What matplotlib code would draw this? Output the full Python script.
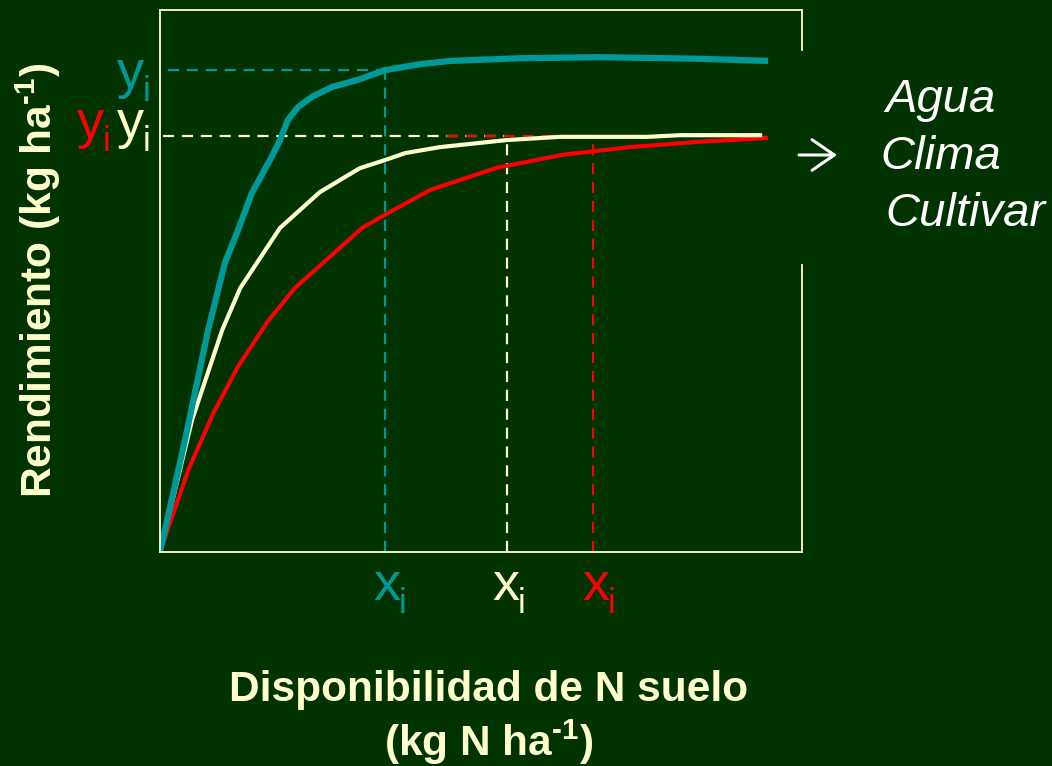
import matplotlib
matplotlib.use("Agg")
import matplotlib.pyplot as plt
import matplotlib.transforms as mtransforms

plt.rcParams['font.family'] = ['Liberation Sans', 'DejaVu Sans']
plt.rcParams['mathtext.fontset'] = 'custom'
plt.rcParams['mathtext.rm'] = 'Liberation Sans:bold'
plt.rcParams['mathtext.bf'] = 'Liberation Sans:bold'

# curve data (N availability vs yield, relative units 0-100)
teal_x = [0, 3.9, 7.5, 10.1, 12.0, 14.3, 17.4, 18.7, 19.9, 21.5, 23.7, 26.8,
          30.8, 35.0, 40.5, 45.2, 56.1, 68.5, 84.1, 94.7]
teal_y = [0, 20.7, 41.0, 53.3, 58.9, 66.2, 72.9, 76.0, 79.7, 82.1, 84.0, 85.8,
          87.1, 88.9, 90.0, 90.6, 91.1, 91.3, 91.0, 90.6]

cream_x = [0, 5.0, 9.7, 12.5, 18.7, 24.9, 31.1, 35.0, 38.2, 43.6, 54.0, 62.3,
           75.9, 81.0, 93.8]
cream_y = [0, 24.4, 41.0, 48.7, 59.8, 66.4, 70.8, 72.3, 73.6, 74.7, 76.0, 76.6,
           76.6, 76.9, 76.9]

red_x = [0, 4.4, 8.3, 12.1, 16.7, 21.0, 31.5, 35.0, 42.1, 52.5, 62.8, 73.2,
         84.1, 94.7]
red_y = [0, 15.1, 25.6, 34.1, 42.4, 48.7, 59.8, 62.2, 66.8, 70.9, 73.3, 74.7,
         75.7, 76.4]

# reference points (x_i, y_i) for each curve
teal_ref = (35.05, 88.9)
cream_ref = (54.05, 76.75)
red_ref = (67.45, 76.75)

factors = ['Agua', 'Clima', 'Cultivar']

BG = '#003300'
TEAL = '#009999'
CREAM = '#FFFFCC'
RED = '#FF0000'

fig = plt.figure(figsize=(10.52, 7.66), dpi=100, facecolor=BG)
ax = fig.add_axes([160 / 1052, 214 / 766, 642 / 1052, 542 / 766])
ax.set_facecolor(BG)
ax.set_xlim(0, 100)
ax.set_ylim(0, 100)
ax.set_xticks([])
ax.set_yticks([])
for side in ['left', 'bottom', 'top']:
    ax.spines[side].set_color(CREAM)
    ax.spines[side].set_linewidth(1.3)
ax.spines['right'].set_visible(False)
# right border is broken behind the text block
ax.plot([1, 1], [0, 0.53], transform=ax.transAxes, color=CREAM, lw=1.3, clip_on=False)
ax.plot([1, 1], [0.926, 1], transform=ax.transAxes, color=CREAM, lw=1.3, clip_on=False)

dash = dict(lw=1.6, dashes=(5, 3.5))
# dashed guides
ax.plot([1.2, teal_ref[0]], [teal_ref[1]] * 2, color=TEAL, **dash)
ax.plot([teal_ref[0]] * 2, [0, teal_ref[1]], color=TEAL, **dash)
ax.plot([0.4, cream_ref[0]], [cream_ref[1]] * 2, color=CREAM, **dash)
ax.plot([cream_ref[0]] * 2, [0, 75.5], color=CREAM, **dash)
ax.plot([44.7, red_ref[0]], [red_ref[1]] * 2, color=RED, **dash)
ax.plot([red_ref[0]] * 2, [0, 76.0], color=RED, **dash)

ax.plot(red_x, red_y, color=RED, lw=3.0, solid_capstyle='butt')
ax.plot(cream_x, cream_y, color=CREAM, lw=3.0, solid_capstyle='butt')
ax.plot(teal_x, teal_y, color=TEAL, lw=4.5, solid_capstyle='butt')

ytr = mtransforms.blended_transform_factory(ax.transAxes, ax.transData)
xtr = mtransforms.blended_transform_factory(ax.transData, ax.transAxes)


def sub_label(letter, color, x, y, base_tr, dx, dy):
    # letter with a lowered subscript "i", shifted by pixel offsets
    tr = mtransforms.offset_copy(base_tr, fig, x=dx, y=dy, units='dots')
    ax.text(x, y, letter, color=color, fontsize=39, ha='left', va='baseline',
            transform=tr)
    tr2 = mtransforms.offset_copy(base_tr, fig, x=dx + 26, y=dy - 13, units='dots')
    ax.text(x, y, 'i', color=color, fontsize=25, ha='left', va='baseline',
            transform=tr2)


sub_label('y', TEAL, 0, teal_ref[1], ytr, -43, -18)
sub_label('y', CREAM, 0, cream_ref[1], ytr, -43, -2)
sub_label('y', RED, 0, red_ref[1], ytr, -83, -2)
sub_label('x', TEAL, teal_ref[0], 0, xtr, -12, -48)
sub_label('x', CREAM, cream_ref[0], 0, xtr, -15, -48)
sub_label('x', RED, red_ref[0], 0, xtr, -11, -48)

# axis titles
fig.text(38 / 1052, 1 - 280 / 766, r'Rendimiento (kg ha$^{\text{-}1}$)',
         rotation=90, color=CREAM, fontsize=30.5, fontweight='bold',
         ha='center', va='center')
fig.text(489 / 1052, 1 - 690 / 766, 'Disponibilidad de N suelo',
         color=CREAM, fontsize=30.5, fontweight='bold', ha='center', va='center')
fig.text(489 / 1052, 1 - 742 / 766, r'(kg N ha$^{\text{-}1}$)',
         color=CREAM, fontsize=30.5, fontweight='bold', ha='center', va='center')

# factors on the right
ax.annotate('', xy=(837, 766 - 155), xytext=(799, 766 - 155),
            xycoords='figure pixels', textcoords='figure pixels',
            arrowprops=dict(arrowstyle='->, head_length=0.8, head_width=0.55',
                            color='white', lw=2.2, mutation_scale=20,
                            shrinkA=0, shrinkB=0))
for i, name in enumerate(factors):
    x0 = [885, 880, 885][i]
    fig.text(x0 / 1052, 1 - (100 + 57 * i) / 766, name, color='white',
             fontsize=34, fontstyle='italic', ha='left', va='center')

fig.savefig('out.png', dpi=100, facecolor=BG)
